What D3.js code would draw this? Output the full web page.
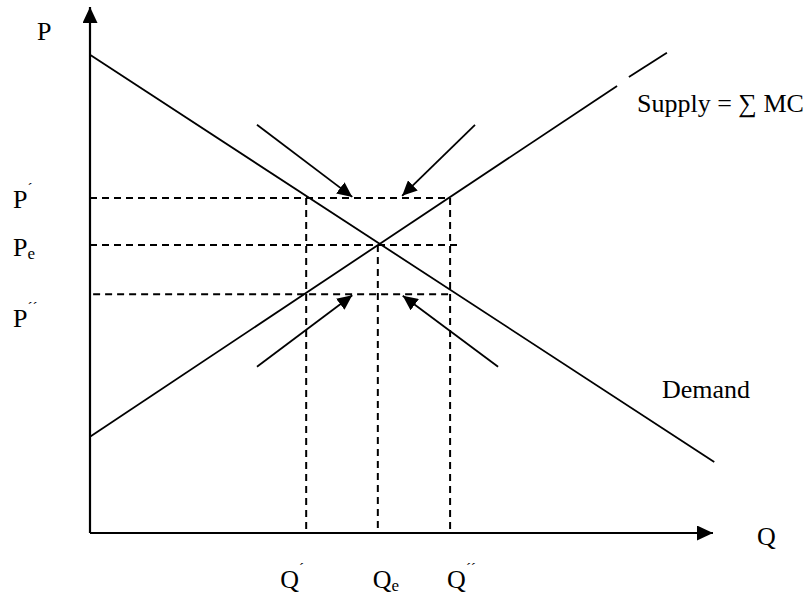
<!DOCTYPE html>
<html>
<head>
<meta charset="utf-8">
<script src="https://cdn.jsdelivr.net/npm/d3@7"></script>
<style>
body { margin: 0; background: #fff; }
text { font-family: "Liberation Serif", "Times New Roman", serif; fill: #000; }
</style>
</head>
<body>
<svg id="chart" width="810" height="598"></svg>
<script>
// chart values, in axis units (0..100 on both axes)
var demand = [[0, 90.9], [100.2, 13.5]]
var supplySegments = [
    [[0, 18.3], [84.6, 85.0]],
    [[86.5, 86.7], [92.6, 91.3]]
]
var priceLevels = [63.7, 54.75, 45.4]      // P', Pe, P''
var quantityLevels = [34.7, 46.2, 57.8]    // Q', Qe, Q''
var priceDashEnd = [57.8, 59.7, 57.8]
var priceDashStart = [0, 0, 0.5]
var quantityDashTop = [63.7, 54.75, 63.7]
var pressureArrows = [
    [[26.8, 77.6], [42.1, 63.9]],
    [[61.8, 77.6], [50.1, 64.1]],
    [[26.8, 31.6], [42.1, 45.2]],
    [[65.5, 31.6], [50.2, 45.1]]
]

var svg = d3.select("#chart")

var x = d3.scaleLinear().domain([0, 100]).range([90, 713])
var y = d3.scaleLinear().domain([0, 100]).range([533, 7])

var defs = svg.append("defs")
defs.append("marker")
    .attr("id", "axisHead")
    .attr("markerUnits", "userSpaceOnUse")
    .attr("viewBox", "0 -7.5 16 15")
    .attr("refX", 16).attr("refY", 0)
    .attr("markerWidth", 16).attr("markerHeight", 15)
    .attr("orient", "auto")
    .append("path").attr("d", "M0,-7.5L16,0L0,7.5Z").attr("fill", "#000")

defs.append("marker")
    .attr("id", "arrowHead")
    .attr("markerUnits", "userSpaceOnUse")
    .attr("viewBox", "0 -7 15 14")
    .attr("refX", 15).attr("refY", 0)
    .attr("markerWidth", 15).attr("markerHeight", 14)
    .attr("orient", "auto")
    .append("path").attr("d", "M0,-7L15,0L0,7Z").attr("fill", "#000")

var line = d3.line().x(function(d) { return x(d[0]) }).y(function(d) { return y(d[1]) })

// dashed guide lines
var guides = svg.append("g")
    .attr("stroke", "#000")
    .attr("stroke-width", 2)
    .attr("stroke-dasharray", "7,5")
    .attr("fill", "none")

priceLevels.forEach(function(p, i) {
    guides.append("path").attr("d", line([[priceDashStart[i], p], [priceDashEnd[i], p]]))
})
quantityLevels.forEach(function(q, i) {
    guides.append("path").attr("d", line([[q, quantityDashTop[i]], [q, 0]]))
})

// demand and supply
svg.append("path")
    .attr("d", line(demand))
    .attr("stroke", "#000").attr("stroke-width", 1.8).attr("fill", "none")

supplySegments.forEach(function(seg) {
    svg.append("path")
        .attr("d", line(seg))
        .attr("stroke", "#000").attr("stroke-width", 1.8).attr("fill", "none")
})

// arrows pushing toward equilibrium
pressureArrows.forEach(function(a) {
    svg.append("path")
        .attr("d", line(a))
        .attr("stroke", "#000").attr("stroke-width", 1.8).attr("fill", "none")
        .attr("marker-end", "url(#arrowHead)")
})

// axes
svg.append("path")
    .attr("d", line([[0, 0], [0, 100]]))
    .attr("stroke", "#000").attr("stroke-width", 2.2).attr("fill", "none")
    .attr("marker-end", "url(#axisHead)")
svg.append("path")
    .attr("d", line([[0, 0], [100, 0]]))
    .attr("stroke", "#000").attr("stroke-width", 2.2).attr("fill", "none")
    .attr("marker-end", "url(#axisHead)")

// labels
var fs = 26

function label(px, py, main, sup, sub) {
    var t = svg.append("text").attr("x", px).attr("y", py).attr("font-size", fs)
    t.append("tspan").text(main)
    if (sup) t.append("tspan").attr("font-size", 15).attr("dy", -15).text(sup)
    if (sub) t.append("tspan").attr("font-size", 17).attr("dy", 3).text(sub)
    return t
}

label(37, 40, "P")
label(13, 208, "P", "\u00b4")
label(13, 256, "P", null, "e")
label(13, 327, "P", "\u00b4\u00b4")

label(x(quantityLevels[0]) - 26, 588, "Q", "\u00b4")
label(x(quantityLevels[1]) - 5, 588, "Q", null, "e")
label(x(quantityLevels[2]) - 3, 588, "Q", "\u00b4\u00b4")

label(757, 545, "Q")
label(662, 398, "Demand")
label(637, 112, "Supply = \u2211 MC")
</script>
</body>
</html>
